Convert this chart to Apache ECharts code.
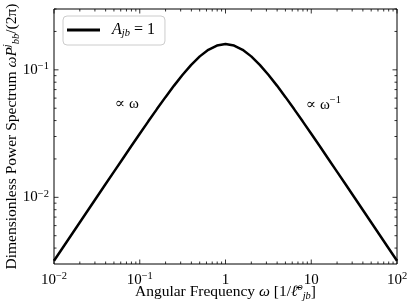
<!DOCTYPE html>
<html><head><meta charset="utf-8">
<script src="https://cdn.jsdelivr.net/npm/echarts@6/dist/echarts.min.js"></script>
<style>html,body{margin:0;padding:0;background:#fff}#c{width:407px;height:303px}</style>
</head><body><div id="c"></div>
<script>
// Angular frequency (x) and dimensionless power spectrum (y)
const omega = [0.01, 0.012589, 0.015849, 0.019953, 0.025119, 0.031623, 0.039811, 0.050119, 0.063096, 0.079433,
  0.1, 0.125893, 0.158489, 0.199526, 0.251189, 0.316228, 0.398107, 0.501187, 0.630957, 0.794328,
  1, 1.258925, 1.584893, 1.995262, 2.511886, 3.162278, 3.981072, 5.011872, 6.309573, 7.943282,
  10, 12.589254, 15.848932, 19.952623, 25.118864, 31.622777, 39.810717, 50.118723, 63.095734, 79.432823, 100];
const spectrum = [0.003183, 0.004007, 0.005044, 0.006349, 0.007991, 0.010056, 0.012652, 0.015913, 0.020004, 0.025126,
  0.031516, 0.039448, 0.049213, 0.061079, 0.075211, 0.091507, 0.109385, 0.127505, 0.143651, 0.155027,
  0.159155, 0.155027, 0.143651, 0.127505, 0.109385, 0.091507, 0.075211, 0.061079, 0.049213, 0.039448,
  0.031516, 0.025126, 0.020004, 0.015913, 0.012652, 0.010056, 0.007991, 0.006349, 0.005044, 0.004007, 0.003183];
const seriesName = 'A_jb = 1';

const xRange = [0.01, 100];
const yRange = [0.003, 0.3];
const xMajorTicks = [0.01, 0.1, 1, 10, 100];
const xTickLabels = ['10^-2', '10^-1', '1', '10', '10^2'];
const yMajorTicks = [0.01, 0.1];
const yTickLabels = ['10^-2', '10^-1'];
const xMinorTicks = [0.02,0.03,0.04,0.05,0.06,0.07,0.08,0.09, 0.2,0.3,0.4,0.5,0.6,0.7,0.8,0.9, 2,3,4,5,6,7,8,9, 20,30,40,50,60,70,80,90];
const yMinorTicks = [0.004,0.005,0.006,0.007,0.008,0.009, 0.02,0.03,0.04,0.05,0.06,0.07,0.08,0.09, 0.2,0.3];

const FONT = '"Liberation Serif", "DejaVu Serif", serif';
const near = (a, b) => Math.abs(Math.log10(a) - Math.log10(b)) < 1e-6;
function richLabel(s) {
  const p = s.split('^');
  return p.length > 1 ? '{b|' + p[0] + '}{s|' + p[1].replace('-', '\u2212') + '}' : '{b|' + p[0] + '}';
}
function tickFormatter(majors, labels) {
  return function (v) {
    for (let i = 0; i < majors.length; i++) if (near(v, majors[i])) return richLabel(labels[i]);
    return '';
  };
}
const labelRich = {
  b: { fontFamily: FONT, fontSize: 15, color: '#000', lineHeight: 18, verticalAlign: 'middle' },
  s: { fontFamily: FONT, fontSize: 10.5, color: '#000', lineHeight: 10, verticalAlign: 'top' }
};
const nameRich = {
  r: { fontFamily: FONT, fontSize: 15.5, color: '#000', lineHeight: 20, verticalAlign: 'middle' },
  i: { fontFamily: FONT, fontSize: 15.5, fontStyle: 'italic', color: '#000', lineHeight: 20, verticalAlign: 'middle' },
  sup: { fontFamily: FONT, fontSize: 10.5, fontStyle: 'italic', color: '#000', lineHeight: 10, verticalAlign: 'top' },
  sub: { fontFamily: FONT, fontSize: 10.5, fontStyle: 'italic', color: '#000', lineHeight: 10, verticalAlign: 'bottom' }
};

function tickSeries(values, isX) {
  const majors = isX ? xMajorTicks : yMajorTicks;
  return {
    type: 'custom', coordinateSystem: 'cartesian2d', silent: true, clip: false, z: 5,
    encode: { x: 0, y: 1 },
    data: values.map(v => isX ? [v, 0.01] : [1, v]),
    renderItem: function (params, api) {
      const cs = params.coordSys;
      const v = api.value(isX ? 0 : 1);
      const major = majors.some(m => near(m, v));
      const len = major ? 4.5 : 2.5;
      const st = { stroke: '#000', lineWidth: 0.8 };
      if (isX) {
        const x = api.coord([v, 0.01])[0];
        return { type: 'group', children: [
          { type: 'line', shape: { x1: x, y1: cs.y + cs.height, x2: x, y2: cs.y + cs.height - len }, style: st },
          { type: 'line', shape: { x1: x, y1: cs.y, x2: x, y2: cs.y + len }, style: st }
        ] };
      } else {
        const y = api.coord([1, v])[1];
        return { type: 'group', children: [
          { type: 'line', shape: { x1: cs.x, y1: y, x2: cs.x + len, y2: y }, style: st },
          { type: 'line', shape: { x1: cs.x + cs.width, y1: y, x2: cs.x + cs.width - len, y2: y }, style: st }
        ] };
      }
    }
  };
}

const chart = echarts.init(document.getElementById('c'), null, { renderer: 'canvas' });
chart.setOption({
  animation: false,
  backgroundColor: '#fff',
  grid: { left: 54, right: 10, top: 9, bottom: 39, containLabel: false, outerBoundsMode: 'none',
    show: true, borderColor: '#000', borderWidth: 1, backgroundColor: 'transparent' },
  xAxis: {
    type: 'log', logBase: 10, min: xRange[0], max: xRange[1],
    axisLine: { show: false }, axisTick: { show: false }, splitLine: { show: false },
    axisLabel: { formatter: tickFormatter(xMajorTicks, xTickLabels), rich: labelRich, margin: 7, showMinLabel: true, showMaxLabel: true, hideOverlap: false },
    name: '{r|Angular Frequency }{i|\u03c9}{r| [1/}{i|\u2113\u0304}{sup|o}{sub|jb}{r|]}',
    nameLocation: 'middle', nameGap: 18, nameMoveOverlap: false, nameTextStyle: { rich: nameRich }
  },
  yAxis: {
    type: 'log', logBase: 10, min: yRange[0], max: yRange[1],
    axisLine: { show: false }, axisTick: { show: false }, splitLine: { show: false },
    axisLabel: { formatter: tickFormatter(yMajorTicks, yTickLabels), rich: labelRich, margin: 5 },
    name: '{r|Dimensionless Power Spectrum }{i|\u03c9P}{sup|j}{sub|bb}{r|/(2\u03c0)}',
    nameLocation: 'middle', nameRotate: 90, nameGap: 32, nameMoveOverlap: false, nameTextStyle: { rich: nameRich }
  },
  legend: {
    left: 63, top: 16, orient: 'vertical',
    padding: [6, 10, 6, 4],
    borderColor: '#ccc', borderWidth: 1, borderRadius: 4, backgroundColor: '#fff',
    itemWidth: 33, itemHeight: 3, icon: 'rect',
    data: [seriesName],
    formatter: function () { return '{i|A}{sub|jb}{r| = 1}'; },
    textStyle: {
      padding: [0, 0, 0, 7],
      rich: {
        r: { fontFamily: FONT, fontSize: 16, color: '#000', lineHeight: 18, verticalAlign: 'middle' },
        i: { fontFamily: FONT, fontSize: 16, fontStyle: 'italic', color: '#000', lineHeight: 18, verticalAlign: 'middle' },
        sub: { fontFamily: FONT, fontSize: 10.5, fontStyle: 'italic', color: '#000', lineHeight: 10, verticalAlign: 'bottom' }
      }
    }
  },
  graphic: [
    { type: 'text', left: 115, top: 97, z: 10, style: { text: '\u221d \u03c9', font: '15px ' + FONT, fill: '#000' } },
    { type: 'text', left: 306, top: 95, z: 10, style: { text: '{r|\u221d }{i|\u03c9}{s|\u22121}', rich: {
      r: { fontFamily: FONT, fontSize: 15, color: '#000', lineHeight: 18, verticalAlign: 'bottom' },
      i: { fontFamily: FONT, fontSize: 15, color: '#000', lineHeight: 18, verticalAlign: 'bottom' },
      s: { fontFamily: FONT, fontSize: 10.5, color: '#000', lineHeight: 10, verticalAlign: 'top' } } } }
  ],
  series: [
    {
      name: seriesName, type: 'line', data: omega.map((w, i) => [w, spectrum[i]]),
      showSymbol: false, symbol: 'none', smooth: false,
      lineStyle: { color: '#000', width: 2.5 }, itemStyle: { color: '#000' }, z: 3
    },
    tickSeries(xMajorTicks.concat(xMinorTicks), true),
    tickSeries(yMajorTicks.concat(yMinorTicks), false)
  ]
});
</script></body></html>
